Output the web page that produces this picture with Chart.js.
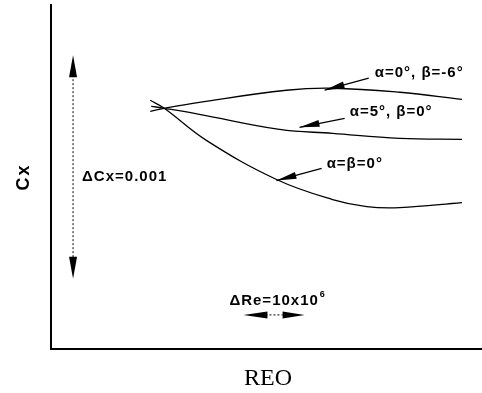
<!DOCTYPE html>
<html>
<head>
<meta charset="utf-8">
<script src="https://cdn.jsdelivr.net/npm/chart.js@4/dist/chart.umd.min.js"></script>
<style>
  body { margin: 0; background: #fff; }
  canvas { display: block; }
</style>
</head>
<body>
<canvas id="cx" width="482" height="393"></canvas>
<script>
// ==== Données (unités arbitraires) ====
const reoTop = [9.9, 11.3, 14.8, 23.5, 28.1, 34.8, 41.0];
const cxTop = [23.7, 24.0, 24.6, 25.8, 26.0, 25.6, 24.9];

const reoMid = [10.0, 11.3, 14.8, 22.8, 28.1, 34.8, 41.0];
const cxMid = [24.2, 24.0, 23.4, 21.9, 21.5, 21.0, 20.9];

const reoLow = [9.9, 11.3, 15.5, 22.5, 28.1, 31.5, 34.8, 41.0];
const cxLow = [24.8, 24.0, 20.8, 16.9, 14.9, 14.2, 14.1, 14.6];

const seriesNames = ['α=0°, β=-6°', 'α=5°, β=0°', 'α=β=0°'];

function toPoints(xs, ys) {
  return xs.map((x, i) => ({ x: x, y: ys[i] }));
}

function lineSet(label, xs, ys) {
  return {
    label: label,
    data: toPoints(xs, ys),
    borderColor: '#000',
    borderWidth: 1.3,
    pointRadius: 0,
    fill: false,
    tension: 0.4
  };
}

// flèche pleine effilée
function arrowHead(ctx, tx, ty, fx, fy, len, w) {
  const dx = tx - fx, dy = ty - fy;
  const d = Math.hypot(dx, dy);
  const ux = dx / d, uy = dy / d;
  const bx = tx - ux * len, by = ty - uy * len;
  ctx.beginPath();
  ctx.moveTo(tx, ty);
  ctx.lineTo(bx - uy * w / 2, by + ux * w / 2);
  ctx.lineTo(bx + uy * w / 2, by - ux * w / 2);
  ctx.closePath();
  ctx.fill();
}

const annotations = {
  id: 'annotations',
  afterDraw(chart) {
    const ctx = chart.ctx;
    const xs = chart.scales.x, ys = chart.scales.y;
    const px = v => xs.getPixelForValue(v);
    const py = v => ys.getPixelForValue(v);
    ctx.save();
    ctx.fillStyle = '#000';
    ctx.strokeStyle = '#000';

    // étiquettes des courbes + flèches
    ctx.font = 'bold 15px "Liberation Sans", Arial, sans-serif';
    ctx.letterSpacing = '1px';
    ctx.textBaseline = 'middle';
    ctx.textAlign = 'left';
    const labels = [
      { text: seriesNames[0], x: 32.3, y: 27.5, ax: 31.7, ay: 27.0, tx: 27.3, ty: 25.8 },
      { text: seriesNames[1], x: 29.8, y: 23.6, ax: 29.3, ay: 23.0, tx: 24.8, ty: 22.1 },
      { text: seriesNames[2], x: 27.5, y: 18.5, ax: 27.0, ay: 18.0, tx: 22.5, ty: 16.8 }
    ];
    labels.forEach(l => {
      ctx.fillText(l.text, px(l.x), py(l.y));
      ctx.lineWidth = 1.3;
      ctx.beginPath();
      ctx.moveTo(px(l.ax), py(l.ay));
      ctx.lineTo(px(l.tx), py(l.ty));
      ctx.stroke();
      arrowHead(ctx, px(l.tx), py(l.ty), px(l.ax), py(l.ay), 20, 7);
    });

    // échelle ΔCx
    const cX = px(2.2), cT = py(29.3), cB = py(7.0);
    ctx.lineWidth = 1;
    ctx.setLineDash([2, 2]);
    ctx.beginPath();
    ctx.moveTo(cX, cT + 20);
    ctx.lineTo(cX, cB - 20);
    ctx.stroke();
    ctx.setLineDash([]);
    arrowHead(ctx, cX, cT, cX, cT + 30, 22, 8);
    arrowHead(ctx, cX, cB, cX, cB - 30, 22, 8);
    ctx.fillText('ΔCx=0.001', px(3.1), py(17.2));

    // échelle ΔRe
    const rY = py(3.4), rL = px(19.2), rR = px(25.3);
    ctx.setLineDash([2, 2]);
    ctx.beginPath();
    ctx.moveTo(rL + 22, rY);
    ctx.lineTo(rR - 22, rY);
    ctx.stroke();
    ctx.setLineDash([]);
    arrowHead(ctx, rL, rY, rL + 30, rY, 24, 7);
    arrowHead(ctx, rR, rY, rR - 30, rY, 22, 7);
    const reText = 'ΔRe=10x10';
    ctx.fillText(reText, px(17.8), py(4.8));
    const w = ctx.measureText(reText).width;
    ctx.font = 'bold 9px "Liberation Sans", Arial, sans-serif';
    ctx.fillText('6', px(17.8) + w + 1, py(4.8) - 6);

    // titres des axes
    ctx.letterSpacing = '2px';
    ctx.font = 'bold 18px "Liberation Sans", Arial, sans-serif';
    ctx.textAlign = 'center';
    ctx.save();
    ctx.translate(24, 177);
    ctx.rotate(-Math.PI / 2);
    ctx.fillText('Cx', 0, 0);
    ctx.restore();
    ctx.letterSpacing = '0px';
    ctx.font = '24px "Liberation Serif", "Times New Roman", serif';
    ctx.textBaseline = 'alphabetic';
    ctx.fillText('REO', 268, 385);
    ctx.restore();
  }
};

const chart = new Chart(document.getElementById('cx').getContext('2d'), {
  type: 'line',
  data: {
    datasets: [
      lineSet(seriesNames[0], reoTop, cxTop),
      lineSet(seriesNames[1], reoMid, cxMid),
      lineSet(seriesNames[2], reoLow, cxLow)
    ]
  },
  options: {
    responsive: false,
    animation: false,
    layout: { padding: { left: 51, top: 5, right: 0, bottom: 44 } },
    plugins: { legend: { display: false }, tooltip: { enabled: false } },
    scales: {
      x: {
        type: 'linear', min: 0, max: 43,
        ticks: { display: false },
        grid: { display: false, drawTicks: false },
        border: { display: true, color: '#000', width: 2 }
      },
      y: {
        min: 0, max: 34.3,
        ticks: { display: false },
        grid: { display: false, drawTicks: false },
        border: { display: true, color: '#000', width: 2 }
      }
    }
  },
  plugins: [annotations]
});
</script>
</body>
</html>
